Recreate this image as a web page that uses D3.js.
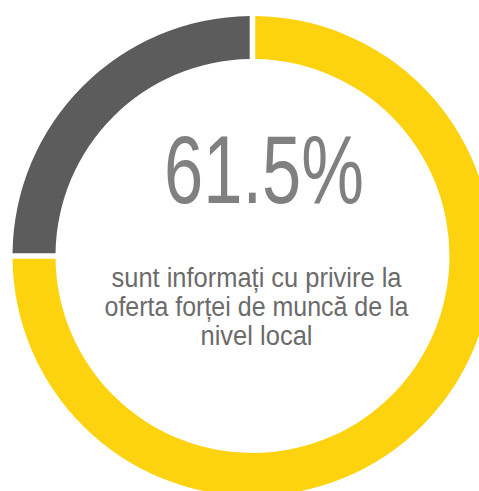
<!DOCTYPE html>
<meta charset="utf-8">
<script src="https://d3js.org/d3.v7.min.js"></script>
<style>
  body { margin: 0; background: #fff; }
</style>
<div id="chart"></div>
<script>
  // data
  var segments = ["informati", "rest"];
  var segmentValues = [75, 25];
  var segmentColors = ["#fdd20e", "#5c5c5c"];
  var headline = "61.5%";
  var captionLines = ["sunt informați cu privire la", "oferta forței de muncă de la", "nivel local"];

  var width = 479, height = 491;
  var cx = 252.5, cy = 256, outer = 240, inner = 197;

  var svg = d3.select("#chart").append("svg")
      .attr("width", width)
      .attr("height", height);

  var g = svg.append("g")
      .attr("transform", "translate(" + cx + "," + cy + ")");

  var pie = d3.pie().sort(null).value(function(d, i) { return segmentValues[i]; });
  var arc = d3.arc().innerRadius(inner).outerRadius(outer).padAngle(0.018);

  g.selectAll("path")
    .data(pie(segments))
    .enter()
    .append("path")
      .attr("d", arc)
      .attr("fill", function(d, i) { return segmentColors[i]; });

  // big number
  svg.append("text")
      .attr("x", 264)
      .attr("y", 203)
      .attr("text-anchor", "middle")
      .attr("textLength", 200)
      .attr("lengthAdjust", "spacingAndGlyphs")
      .style("font-family", "'Liberation Sans Narrow', 'Liberation Sans', sans-serif")
      .style("font-size", "96px")
      .style("fill", "#808080")
      .text(headline);

  // caption
  var lineWidths = [290, 304, 112];
  svg.append("g").selectAll("text")
    .data(captionLines)
    .enter()
    .append("text")
      .attr("x", 256.5)
      .attr("y", function(d, i) { return 287 + i * 29; })
      .attr("text-anchor", "middle")
      .attr("textLength", function(d, i) { return lineWidths[i]; })
      .attr("lengthAdjust", "spacingAndGlyphs")
      .style("font-family", "'Liberation Sans Narrow', 'Liberation Sans', sans-serif")
      .style("font-size", "27px")
      .style("fill", "#6b6b6b")
      .text(function(d) { return d; });
</script>
